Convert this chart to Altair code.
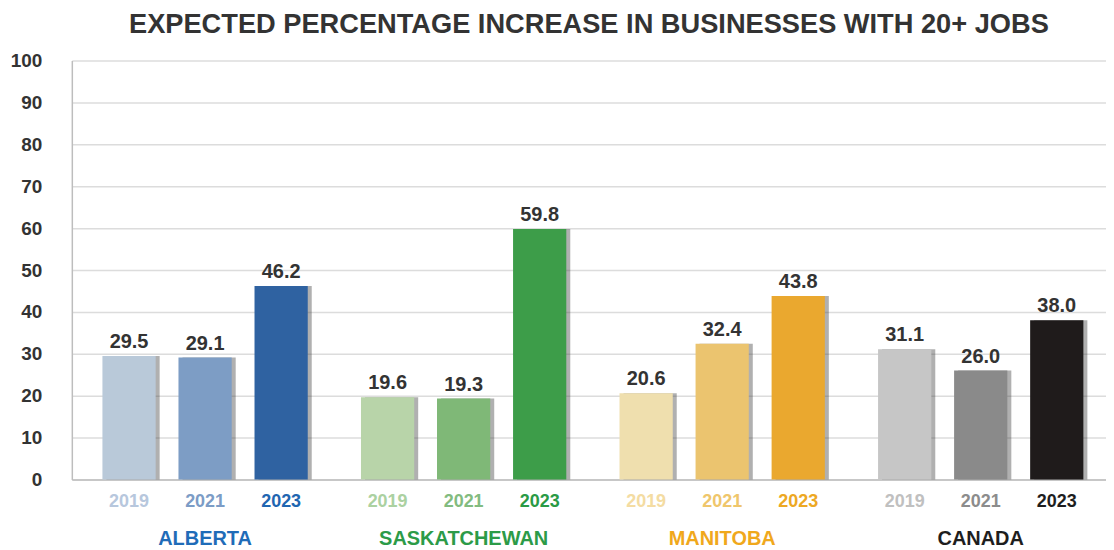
import altair as alt
import pandas as pd

groups = ["ALBERTA", "SASKATCHEWAN", "MANITOBA", "CANADA"]
years = ["2019", "2021", "2023"]
alberta = [29.5, 29.1, 46.2]
saskatchewan = [19.6, 19.3, 59.8]
manitoba = [20.6, 32.4, 43.8]
canada = [31.1, 26.0, 38.0]

series = [alberta, saskatchewan, manitoba, canada]
rows = []
for g, vals in zip(groups, series):
    for y, v in zip(years, vals):
        rows.append({"group": g, "year": y, "value": v, "key": f"{g}-{y}"})
df = pd.DataFrame(rows)
gdf = pd.DataFrame({"group": groups})

keys = list(df["key"])
bar_colors = [
    "#b9c9d9", "#7d9dc5", "#2f62a1",
    "#b8d4a9", "#7fb877", "#3d9d49",
    "#efdfae", "#ebc46f", "#eaa82f",
    "#c6c6c6", "#8a8a8a", "#1f1b1b",
]
year_colors = [
    "#b7c7dd", "#7c9cc6", "#1f66b1",
    "#abd1a1", "#82bb7f", "#2a9a45",
    "#f4dca2", "#efc66b", "#eda823",
    "#c0c0c0", "#8c8c8c", "#1e1e1e",
]
group_colors = ["#1f6cb8", "#2c9b48", "#f0a81c", "#1e1e1e"]

W, H = 1037, 420
BAND = W / 4
SHIFT = 4
FONT = "Liberation Sans"

x = alt.X("group:N", sort=groups,
          scale=alt.Scale(type="band", paddingInner=0, paddingOuter=0),
          axis=alt.Axis(labels=False, ticks=False, title=None, domain=True,
                        domainColor="#bdbdbd", domainWidth=1.5, grid=False))
xo = alt.XOffset("year:N", sort=years,
                 scale=alt.Scale(type="band", paddingInner=0.3, paddingOuter=0.35,
                                 range=[SHIFT, BAND + SHIFT]))
xo_shadow = alt.XOffset("year:N", sort=years,
                        scale=alt.Scale(type="band", paddingInner=0.3, paddingOuter=0.35,
                                        range=[SHIFT + 4, BAND + SHIFT + 4]))
yenc = alt.Y("value:Q", scale=alt.Scale(domain=[0, 100]),
             axis=alt.Axis(values=list(range(0, 101, 10)), title=None, ticks=False,
                           labelFont=FONT, labelFontSize=19, labelFontWeight="bold",
                           labelColor="#333333", labelPadding=30,
                           domainColor="#bdbdbd", domainWidth=1.5,
                           gridColor="#dcdcdc", gridWidth=1.5))

base = alt.Chart(df)

shadow = base.mark_bar(color="#3a3a3a", opacity=0.4).encode(
    x=x, xOffset=xo_shadow, y=yenc)

bars = base.mark_bar().encode(
    x=x, xOffset=xo, y=yenc,
    color=alt.Color("key:N", scale=alt.Scale(domain=keys, range=bar_colors), legend=None),
)

vals = base.mark_text(baseline="bottom", dy=-4, font=FONT, fontSize=20,
                      fontWeight="bold", color="#333333").encode(
    x=x, xOffset=xo, y=yenc, text=alt.Text("value:Q", format=".1f"))

yrs = base.mark_text(baseline="middle", font=FONT, fontSize=18, fontWeight="bold").encode(
    x=x, xOffset=xo, y=alt.value(H + 23), text="year:N",
    color=alt.Color("key:N", scale=alt.Scale(domain=keys, range=year_colors), legend=None),
)

glabels = alt.Chart(gdf).mark_text(baseline="middle", font=FONT, fontSize=20,
                                   fontWeight="bold", dx=SHIFT).encode(
    x=x, y=alt.value(H + 60), text="group:N",
    color=alt.Color("group:N", scale=alt.Scale(domain=groups, range=group_colors), legend=None),
)

chart = alt.layer(shadow, bars, vals, yrs, glabels).resolve_scale(
    color="independent", xOffset="independent"
).properties(
    width=W, height=H,
    title=alt.TitleParams("EXPECTED PERCENTAGE INCREASE IN BUSINESSES WITH 20+ JOBS",
                          font=FONT, fontSize=27.3, fontWeight="bold", color="#333333",
                          anchor="middle", offset=13),
    padding={"left": 2, "top": 2, "right": 0, "bottom": 0},
).configure_view(stroke=None)

chart.save("out.html", embed_options={"renderer": "svg", "actions": False})
